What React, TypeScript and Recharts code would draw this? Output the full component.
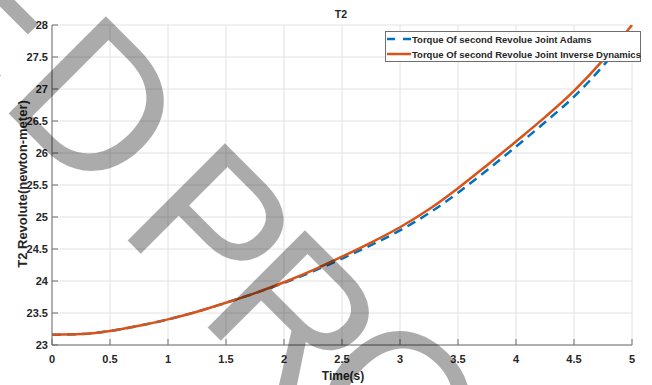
import { LineChart, Line, XAxis, YAxis, CartesianGrid } from 'recharts';

// Torque of the second revolute joint vs time
const timeS = [0, 0.25, 0.5, 0.75, 1, 1.25, 1.5, 1.75, 2, 2.25, 2.5, 2.75, 3, 3.25, 3.5, 3.75, 4, 4.25, 4.5, 4.75, 5];
const torqueAdams = [
  23.16, 23.17, 23.22, 23.3, 23.4, 23.52, 23.66, 23.81, 23.97, 24.15, 24.35,
  24.56, 24.79, 25.06, 25.38, 25.73, 26.1, 26.48, 26.88, 27.36, 27.92,
];
const torqueInverseDynamics = [
  23.16, 23.17, 23.22, 23.3, 23.4, 23.52, 23.66, 23.81, 23.98, 24.17, 24.38,
  24.6, 24.84, 25.12, 25.45, 25.81, 26.18, 26.56, 26.97, 27.45, 28.0,
];
const seriesNames = [
  'Torque Of second Revolue Joint Adams',
  'Torque Of second Revolue Joint Inverse Dynamics',
];
const xTicks = [0, 0.5, 1, 1.5, 2, 2.5, 3, 3.5, 4, 4.5, 5];
const yTicks = [23, 23.5, 24, 24.5, 25, 25.5, 26, 26.5, 27, 27.5, 28];

const chartData = timeS.map((t, i) => ({
  t,
  adams: torqueAdams[i],
  invDyn: torqueInverseDynamics[i],
}));

const FONT = '"Liberation Sans", Arial, Helvetica, sans-serif';
const AXIS = '#6f6f6f';
const TEXT = '#262626';
const GRID = '#e2e2e2';
const BLUE = '#0072BD';
const ORANGE = '#D95319';
const TICK_LEN = 6;

// watermark letters sitting over the figure
const watermark = [
  { ch: 'E', x: -98, y: -2 },
  { ch: 'D', x: -3, y: 102 },
  { ch: 'P', x: 116, y: 229 },
  { ch: 'R', x: 196, y: 316 },
  { ch: 'O', x: 294, y: 397 },
];

const fmt = (v: number) => String(v);

const BottomTick = (props: any) => {
  const { x, y, payload } = props;
  return (
    <g>
      <line x1={x} y1={y} x2={x} y2={y - TICK_LEN} stroke={AXIS} />
      <text x={x} y={y + 18} textAnchor="middle" fill={TEXT} fontSize={11} fontWeight="bold" fontFamily={FONT}>
        {fmt(payload.value)}
      </text>
    </g>
  );
};

const TopTick = (props: any) => {
  const { x, y } = props;
  return <line x1={x} y1={y} x2={x} y2={y + TICK_LEN} stroke={AXIS} />;
};

const LeftTick = (props: any) => {
  const { x, y, payload } = props;
  return (
    <g>
      <line x1={x} y1={y} x2={x + TICK_LEN} y2={y} stroke={AXIS} />
      <text x={x - 4} y={y + 4} textAnchor="end" fill={TEXT} fontSize={11} fontWeight="bold" fontFamily={FONT}>
        {fmt(payload.value)}
      </text>
    </g>
  );
};

const RightTick = (props: any) => {
  const { x, y } = props;
  return <line x1={x} y1={y} x2={x - TICK_LEN} y2={y} stroke={AXIS} />;
};

function LegendBox() {
  return (
    <svg width={652} height={385} style={{ position: 'absolute', left: 0, top: 0, pointerEvents: 'none' }}>
      <rect x={385.5} y={31.5} width={255} height={30} fill="#fff" stroke={AXIS} strokeWidth={1} />
      <line x1={387} y1={39} x2={411} y2={39} stroke={BLUE} strokeWidth={2.5} strokeDasharray="8 8" />
      <line x1={387} y1={54} x2={411} y2={54} stroke={ORANGE} strokeWidth={2.5} />
      <text x={412} y={42.5} fill={TEXT} fontSize={9.5} fontWeight="bold" fontFamily={FONT}>
        {seriesNames[0]}
      </text>
      <text x={412} y={57.5} fill={TEXT} fontSize={9.5} fontWeight="bold" fontFamily={FONT}>
        {seriesNames[1]}
      </text>
    </svg>
  );
}

export default function App() {
  return (
    <div style={{ position: 'absolute', left: 0, top: 0, width: 652, height: 385, background: '#fff' }}>
      <LineChart
        width={652}
        height={385}
        data={chartData}
        margin={{ top: 25, right: 20, bottom: 0, left: 0 }}
      >
        <CartesianGrid stroke={GRID} strokeWidth={1} />
        <XAxis
          dataKey="t"
          type="number"
          domain={[0, 5]}
          ticks={xTicks}
          height={40}
          tickSize={0}
          tickMargin={0}
          tickLine={false}
          axisLine={{ stroke: AXIS }}
          tick={<BottomTick />}
          interval={0}
        />
        <XAxis
          xAxisId="top"
          orientation="top"
          type="number"
          domain={[0, 5]}
          ticks={xTicks}
          height={0}
          tickSize={0}
          tickMargin={0}
          tickLine={false}
          axisLine={{ stroke: AXIS }}
          tick={<TopTick />}
          interval={0}
        />
        <YAxis
          type="number"
          domain={[23, 28]}
          ticks={yTicks}
          width={52}
          tickSize={0}
          tickMargin={0}
          tickLine={false}
          allowDataOverflow
          axisLine={{ stroke: AXIS }}
          tick={<LeftTick />}
          interval={0}
        />
        <YAxis
          yAxisId="right"
          orientation="right"
          type="number"
          domain={[23, 28]}
          ticks={yTicks}
          width={0}
          tickSize={0}
          tickMargin={0}
          tickLine={false}
          axisLine={{ stroke: AXIS }}
          tick={<RightTick />}
          interval={0}
        />
        <Line
          type="monotone"
          dataKey="adams"
          name={seriesNames[0]}
          stroke={BLUE}
          strokeWidth={2.5}
          strokeDasharray="9 6"
          dot={false}
          isAnimationActive={false}
        />
        <Line
          type="monotone"
          dataKey="invDyn"
          name={seriesNames[1]}
          stroke={ORANGE}
          strokeWidth={2.5}
          dot={false}
          isAnimationActive={false}
        />
        <text x={341} y={17.5} textAnchor="middle" fill={TEXT} fontSize={10.5} fontWeight="bold" fontFamily={FONT}>
          T2
        </text>
        <text x={343} y={380} textAnchor="middle" fill={TEXT} fontSize={12} fontWeight="bold" fontFamily={FONT}>
          Time(s)
        </text>
        <text
          x={27}
          y={184}
          transform="rotate(-90 27 184)"
          textAnchor="middle"
          fill={TEXT}
          fontSize={13}
          fontWeight="bold"
          fontFamily={FONT}
        >
          T2 Revolute(newton-meter)
        </text>
      </LineChart>
      <LegendBox />
      <svg width={652} height={385} style={{ position: 'absolute', left: 0, top: 0, pointerEvents: 'none' }}>
        {watermark.map((w) => (
          <text
            key={w.ch + w.x}
            transform={`translate(${w.x} ${w.y}) rotate(45)`}
            fontSize={200}
            fontFamily={FONT}
            fill="#000"
            fillOpacity={0.33}
          >
            {w.ch}
          </text>
        ))}
      </svg>
    </div>
  );
}
